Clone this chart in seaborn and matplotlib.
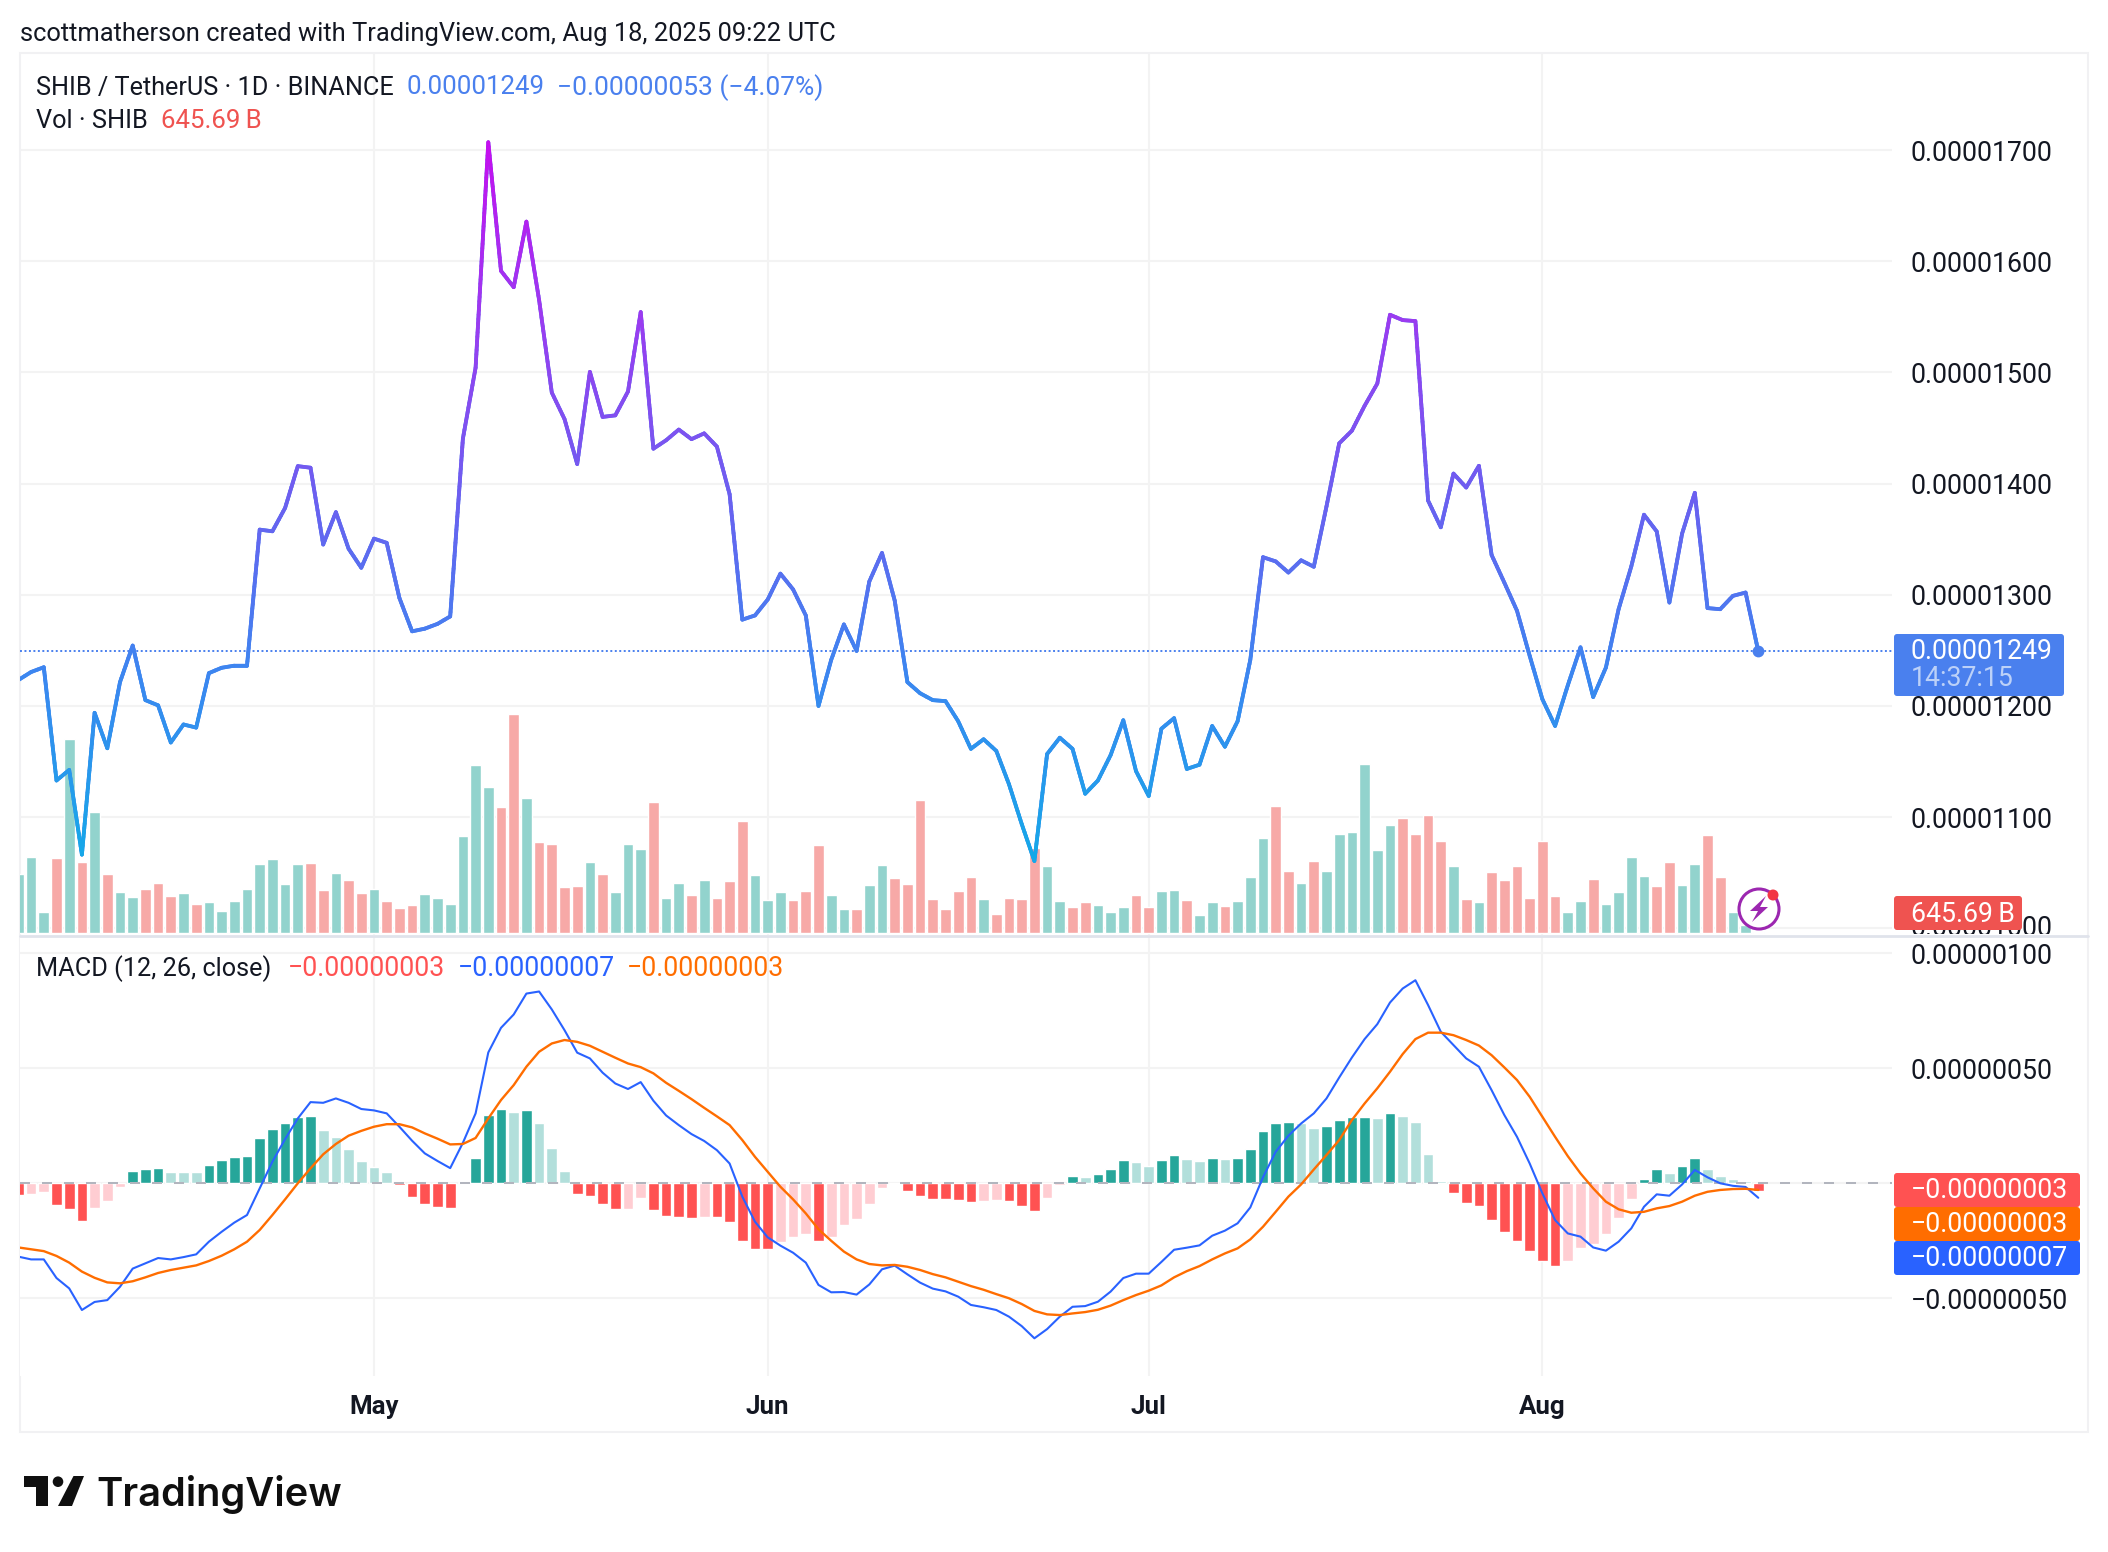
import numpy as np
import pandas as pd
import matplotlib
matplotlib.use("Agg")
import matplotlib.pyplot as plt
import matplotlib.dates as mdates
from matplotlib.collections import LineCollection
from matplotlib.colors import LinearSegmentedColormap, Normalize
from matplotlib.patches import Rectangle, FancyBboxPatch, Circle, Polygon
from matplotlib.lines import Line2D
from matplotlib.ticker import FuncFormatter
from matplotlib.transforms import Bbox, IdentityTransform
import seaborn as sns

W, H = 2108, 1552

# closes, in units of 1e-8 USDT
close = [1223.3, 1230.5, 1234.8, 1132.9, 1142.4, 1066.2, 1193.8, 1161.9, 1221.4, 1254.3,
         1205.2, 1200.5, 1167.1, 1183.3, 1180.5, 1229.5, 1234.3, 1236.2, 1236.2, 1358.6,
         1357.1, 1378.1, 1415.7, 1414.3, 1345.2, 1374.3, 1341.4, 1324.3, 1350.5, 1346.7,
         1297.1, 1267.1, 1269.5, 1273.8, 1280.5, 1440.5, 1504.3, 1707.1, 1591.4, 1576.7,
         1635.7, 1565.2, 1481.9, 1458.1, 1417.6, 1500.5, 1460.0, 1461.4, 1482.9, 1554.3,
         1431.4, 1439.0, 1448.6, 1440.0, 1445.2, 1433.3, 1390.5, 1277.6, 1281.4, 1295.7,
         1319.0, 1304.8, 1281.4, 1200.0, 1241.4, 1273.3, 1249.5, 1311.9, 1337.6, 1294.8,
         1221.4, 1211.4, 1205.2, 1204.3, 1186.2, 1161.4, 1170.0, 1159.5, 1129.5, 1093.8,
         1060.5, 1156.7, 1171.4, 1161.4, 1121.0, 1132.9, 1155.7, 1187.1, 1141.4, 1119.0,
         1179.5, 1189.0, 1143.3, 1147.1, 1181.9, 1163.3, 1186.2, 1241.4, 1333.8, 1330.0,
         1320.0, 1331.0, 1325.2, 1379.5, 1436.2, 1447.6, 1470.0, 1490.0, 1551.9, 1547.1,
         1546.2, 1384.7, 1360.7, 1409.0, 1396.5, 1416.0, 1335.8, 1311.0, 1285.6, 1245.0,
         1206.0, 1182.0, 1218.5, 1252.7, 1208.0, 1234.5, 1287.0, 1325.5, 1372.0, 1357.0,
         1293.0, 1355.0, 1391.7, 1288.0, 1287.0, 1299.0, 1302.0, 1249.0]

# relative volume, last bar is 645.69 B
vol = [112, 144, 40, 142, 367, 134, 229, 112, 78, 68,
       83, 95, 70, 76, 55, 59, 42, 61, 83, 130,
       140, 93, 130, 132, 81, 113, 100, 76, 83, 61,
       47, 53, 74, 66, 55, 183, 317, 276, 238, 414,
       255, 172, 168, 87, 89, 134, 112, 78, 168, 159,
       248, 66, 95, 72, 100, 66, 98, 212, 110, 62,
       78, 62, 79, 166, 72, 45, 45, 91, 129, 104,
       93, 251, 64, 45, 79, 106, 64, 36, 66, 64,
       161, 127, 61, 49, 59, 53, 40, 49, 72, 49,
       79, 81, 62, 34, 59, 51, 61, 106, 180, 240,
       117, 95, 136, 117, 187, 191, 319, 157, 204, 217,
       187, 223, 173, 126, 64, 58, 115, 100, 126, 67,
       173, 69, 39, 60, 102, 55, 77, 143, 107, 88,
       134, 90, 130, 185, 105, 39, 15, 2]
vol_dir = ("gggrgrgrgg" "rrrgrggggg" "gggrrgrrgr" "rrggggggrr" "grrrrgrggg"
           "rggrgrrrgg" "grrrggrggr" "rrrrrrgrrr" "rggrrgggrr" "ggrggrgggr"
           "rgrggggggr" "rrrgrgrrrr" "rrggrggggr" "rggrrggr")

macd = [-32.0, -33.2, -33.2, -41.3, -45.8, -55.2, -51.7, -50.9, -45.1, -37.2,
        -34.9, -32.6, -33.2, -32.2, -31.0, -25.5, -21.2, -17.2, -13.9, -2.3,
        9.3, 19.1, 28.1, 35.2, 34.9, 36.8, 34.9, 32.2, 31.6, 30.3,
        24.5, 18.4, 12.9, 9.6, 6.5, 17.5, 30.3, 56.8, 67.5, 73.3,
        82.4, 83.3, 75.5, 66.5, 56.7, 54.2, 48.0, 43.3, 40.9, 43.9,
        35.8, 29.4, 25.2, 21.3, 18.3, 14.3, 8.5, -5.9, -16.8, -23.6,
        -27.2, -30.3, -34.6, -44.3, -47.5, -47.4, -48.5, -44.1, -37.5, -35.9,
        -39.7, -43.3, -45.9, -47.1, -49.4, -53.0, -54.0, -55.2, -58.1, -62.2,
        -67.5, -63.5, -58.1, -53.8, -53.5, -51.6, -47.2, -41.3, -39.4, -39.4,
        -34.3, -29.0, -28.1, -27.1, -22.9, -20.7, -17.5, -10.6, 2.5, 13.6,
        20.6, 25.9, 30.3, 36.8, 45.9, 54.6, 62.6, 69.1, 78.5, 84.6,
        88.2, 77.4, 65.8, 60.0, 54.2, 50.6, 40.4, 29.6, 20.1, 8.5,
        -4.5, -16.1, -21.9, -23.3, -28.0, -29.4, -25.5, -19.7, -10.3, -4.9,
        -5.5, -0.6, 5.7, 2.5, -0.1, -1.2, -1.7, -6.4]

signal = [-28.0, -28.8, -29.6, -31.7, -34.6, -38.5, -41.2, -43.2, -43.6, -42.7,
          -41.0, -39.1, -37.8, -36.8, -35.8, -33.9, -31.6, -28.8, -25.5, -20.4,
          -13.9, -7.1, -0.1, 6.4, 12.5, 17.0, 20.6, 22.7, 24.5, 25.6,
          25.6, 24.2, 21.6, 19.3, 16.8, 17.0, 19.6, 28.1, 36.1, 42.6,
          50.6, 57.1, 60.7, 62.2, 61.4, 59.7, 57.1, 54.5, 52.0, 50.4,
          47.7, 43.6, 40.1, 36.5, 32.7, 29.0, 25.2, 18.7, 11.4, 4.9,
          -1.6, -7.1, -13.2, -20.1, -25.1, -29.8, -33.2, -35.2, -35.8, -35.6,
          -36.4, -37.8, -39.6, -41.0, -42.9, -44.8, -46.4, -48.3, -50.1, -52.6,
          -55.6, -57.1, -57.4, -56.7, -56.1, -55.1, -53.3, -50.9, -48.7, -46.8,
          -44.5, -41.0, -38.3, -36.1, -33.2, -30.6, -28.4, -24.5, -19.0, -12.5,
          -5.9, -0.6, 5.9, 12.2, 18.7, 27.4, 34.6, 41.2, 48.4, 56.1,
          62.6, 65.4, 65.4, 64.3, 62.2, 59.8, 55.6, 50.3, 44.8, 37.5,
          28.8, 20.1, 11.7, 4.2, -2.3, -8.1, -11.4, -12.9, -12.5, -11.0,
          -10.0, -8.1, -5.5, -3.8, -3.0, -2.6, -2.5, -3.0]

hist = [-5.2, -4.8, -3.8, -9.6, -11.2, -16.5, -10.9, -7.8, -1.7, 5.2,
        6.1, 6.5, 4.8, 4.8, 4.8, 7.8, 10.0, 11.3, 11.7, 19.6,
        23.5, 26.1, 28.7, 29.1, 23.0, 20.0, 14.8, 9.6, 7.0, 4.8,
        -0.9, -6.1, -9.1, -10.4, -10.9, 0.4, 10.9, 29.6, 32.2, 30.9,
        31.7, 26.1, 15.2, 5.2, -4.8, -5.7, -9.1, -11.4, -11.3, -6.5,
        -11.7, -14.3, -14.8, -15.2, -14.8, -14.9, -17.0, -25.2, -28.7, -28.7,
        -25.6, -23.5, -22.2, -25.2, -23.5, -18.3, -15.6, -9.1, -2.2, -0.4,
        -3.5, -5.7, -7.0, -7.0, -7.4, -8.3, -7.8, -7.4, -7.8, -10.0,
        -12.2, -6.5, -0.9, 3.0, 2.6, 3.9, 6.1, 10.0, 9.1, 7.4,
        10.0, 12.2, 10.4, 9.6, 10.9, 10.4, 10.9, 14.8, 22.6, 26.1,
        26.5, 26.1, 23.9, 24.8, 27.4, 28.7, 28.9, 28.3, 30.4, 29.1,
        26.5, 12.6, 0.9, -4.3, -8.7, -10.0, -16.1, -21.3, -25.2, -29.6,
        -33.9, -36.1, -33.9, -28.3, -26.5, -22.2, -15.2, -7.0, 1.7, 6.1,
        4.3, 7.4, 10.9, 6.1, 3.0, 1.7, 0.9, -3.5]

df = pd.DataFrame({
    "date": pd.date_range("2025-04-03", periods=len(close), freq="D"),
    "price": np.array(close) * 1e-8,
    "vol": np.array(vol) * 322.8e9,
    "up": [c == "g" for c in vol_dir],
    "macd": np.array(macd) * 1e-8,
    "signal": np.array(signal) * 1e-8,
    "hist": np.array(hist) * 1e-8,
})

sns.set_theme(style="white")
plt.rcParams["font.family"] = ["Roboto", "DejaVu Sans"]
TXT = "#131722"
GRID = "#f3f3f3"
BLUE = "#4a80ee"
FS = 18.3    # words
FS_NUM = 19.2  # axis numbers

fig = plt.figure(figsize=(W / 100, H / 100), dpi=100, facecolor="white")


def box(x0, y0, x1, y1):
    return [x0 / W, 1 - y1 / H, (x1 - x0) / W, (y1 - y0) / H]


def ftext(x, y, s, **kw):
    kw.setdefault("color", TXT)
    kw.setdefault("fontsize", FS)
    kw.setdefault("va", "center")
    kw.setdefault("zorder", 8)
    return fig.text(x / W, 1 - y / H, s, **kw)


def tag(x0, y0, x1, y1, color):
    p = FancyBboxPatch((x0, H - y1), x1 - x0, y1 - y0, boxstyle="round,pad=0,rounding_size=3",
                       fc=color, ec="none", transform=IdentityTransform(), zorder=6)
    fig.add_artist(p)


def px_line(x0, y0, x1, y1, color, lw):
    fig.add_artist(Line2D([x0, x1], [H - y0, H - y1], color=color, lw=lw,
                          transform=IdentityTransform(), zorder=5))


may1 = mdates.date2num(pd.Timestamp("2025-05-01"))
xlim = (may1 - 354 / 12.7, may1 + 1518 / 12.7)
months = pd.to_datetime(["2025-05-01", "2025-06-01", "2025-07-01", "2025-08-01"])

# price pane: grid and labels below, volume in the middle, line on top
ax_price = fig.add_axes(box(20, 53, 1892, 935), zorder=0)
ax_vol = fig.add_axes(box(20, 53, 1892, 935), zorder=1)
ax_line = fig.add_axes(box(20, 53, 1892, 935), zorder=2)
ax_macd = fig.add_axes(box(20, 937, 1892, 1376), zorder=1)

price_ylim = (993.9e-8, 1787.4e-8)
for ax in [ax_price, ax_vol, ax_line, ax_macd]:
    ax.set_xlim(xlim)
    for s in ax.spines.values():
        s.set_visible(False)
    ax.xaxis_date()
for ax in [ax_vol, ax_line]:
    ax.patch.set_alpha(0)
    ax.axis("off")
ax_price.set_ylim(price_ylim)
ax_line.set_ylim(price_ylim)


def fmt(v, pos=None):
    if abs(v - 1000e-8) < 1e-9:
        return ""
    return f"{v:.8f}".replace("-", "\u2212")


for ax, ticks in [(ax_price, np.arange(1000, 1701, 100) * 1e-8),
                  (ax_macd, np.array([-50, 0, 50, 100]) * 1e-8)]:
    ax.set_xticks(mdates.date2num(months))
    ax.set_yticks(ticks)
    ax.yaxis.tick_right()
    ax.yaxis.set_major_formatter(FuncFormatter(fmt))
    ax.tick_params(axis="y", length=0, pad=13.5, labelsize=FS_NUM, labelcolor=TXT)
    ax.tick_params(axis="x", length=0)
    ax.grid(True, color=GRID, lw=1.5)
    ax.set_axisbelow(True)
ax_price.tick_params(axis="x", labelbottom=False)
# the zero level has the dashed line and no number
for lab, tk in zip(ax_macd.get_yticklabels(), ax_macd.get_yticks()):
    if abs(tk) < 1e-12:
        lab.set_visible(False)

# volume
ax_vol.set_ylim(-3.8 * 322.8e9, 1662 * 322.8e9)
ax_vol.bar(df["date"], df["vol"], width=0.84,
           color=["#92d3cd" if u else "#f7a9a7" for u in df["up"]], zorder=2)

# price line, colour follows the price
sns.lineplot(data=df, x="date", y="price", ax=ax_line, color="#4a80ee", lw=2.7)
ax_line.set_xlim(xlim)
ax_line.set_ylim(price_ylim)
ax_line.axis("off")
cmap = LinearSegmentedColormap.from_list("price", ["#14a9e8", "#3a88f0", "#6b60f0", "#9a3cf0", "#c60eef"])
norm = Normalize(1060e-8, 1707e-8)
xn = mdates.date2num(df["date"])
segs, cols = [], []
for i in range(len(df) - 1):
    n = int(abs(close[i + 1] - close[i]) / 4) + 1
    xs = np.linspace(xn[i], xn[i + 1], n + 1)
    ys = np.linspace(df["price"][i], df["price"][i + 1], n + 1)
    for j in range(n):
        segs.append([(xs[j], ys[j]), (xs[j + 1], ys[j + 1])])
        cols.append(cmap(norm((ys[j] + ys[j + 1]) / 2)))
ax_line.add_collection(LineCollection(segs, colors=cols, linewidths=2.7, capstyle="round", zorder=3))
ax_line.axhline(df["price"].iloc[-1], color=BLUE, lw=1.4, ls=(0, (1, 1.3)), zorder=1)
ax_line.plot(df["date"].iloc[-1], df["price"].iloc[-1], "o", ms=8.5, color=BLUE, mec="none", zorder=4)

# macd pane
ax_macd.set_ylim(-83.9e-8, 107e-8)
prev = df["hist"].shift(1)
hist_cols = []
for h, p in zip(df["hist"], prev):
    rising = h > p
    if h >= 0:
        hist_cols.append("#26a69a" if rising else "#b2dfdb")
    else:
        hist_cols.append("#ffcdd2" if rising else "#ff5252")
ax_macd.bar(df["date"], df["hist"], width=0.84, color=hist_cols, zorder=2)
ax_macd.axhline(0, color="#b2b5be", lw=1.44, ls=(0, (5, 6)), zorder=3)
sns.lineplot(data=df, x="date", y="macd", ax=ax_macd, color="#2962ff", lw=1.5, zorder=4)
sns.lineplot(data=df, x="date", y="signal", ax=ax_macd, color="#ff6d00", lw=1.7, zorder=5)
ax_macd.set_xlim(xlim)
ax_macd.set_xlabel("")
ax_macd.set_ylabel("")
ax_price.set_xlabel("")
ax_price.set_ylabel("")
ax_macd.xaxis.set_major_formatter(mdates.DateFormatter("%b"))
ax_macd.tick_params(axis="x", pad=14, labelsize=18.6, labelcolor=TXT)
for t in ax_macd.get_xticklabels():
    t.set_fontweight(600)

# frame and pane separator
fig.add_artist(Rectangle((20, H - 1432), 2068, 1379, fc="none", ec="#f1f1f3", lw=1.5,
                         transform=IdentityTransform(), zorder=0.5))
px_line(20, 935.5, 2088, 935.5, "#e0e3eb", 2.0)

# clipped axis label under the volume tag
t = ftext(1910.6, 928.2, "0.00001000", fontsize=FS_NUM, zorder=5.5)
t.set_clip_on(True)
t.set_clip_box(Bbox.from_extents(1892, H - 934, 2088, H))

# axis tags
tag(1894, 634, 2064, 696, "#4a80ee")
ftext(1910.6, 651, "0.00001249", color="white", fontsize=FS_NUM)
ftext(1910.6, 679, "14:37:15", color="#bcd1f8", fontsize=FS_NUM)
tag(1894, 896, 2022, 930, "#ef5350")
ftext(1910.6, 914, "645.69\u2009B", color="white", fontsize=FS_NUM)
tag(1894, 1173, 2080, 1207, "#ff5252")
ftext(1910.6, 1190.5, "\u22120.00000003", color="white", fontsize=FS_NUM)
tag(1894, 1207, 2080, 1241, "#ff6d00")
ftext(1910.6, 1224.5, "\u22120.00000003", color="white", fontsize=FS_NUM)
tag(1894, 1241, 2080, 1275, "#2962ff")
ftext(1910.6, 1258.5, "\u22120.00000007", color="white", fontsize=FS_NUM)

# headers
ftext(20, 33.5, "scottmatherson created with TradingView.com, Aug 18, 2025 09:22 UTC", fontsize=18.35)
ftext(36, 87.5, "SHIB / TetherUS \u00b7 1D \u00b7 BINANCE", fontsize=18.2)
ftext(407, 87.5, "0.00001249", color=BLUE, fontsize=18.6)
ftext(557, 87.5, "\u22120.00000053 (\u22124.07%)", color=BLUE, fontsize=19)
ftext(36, 121.5, "Vol \u00b7 SHIB", fontsize=18.3)
ftext(161, 121.5, "645.69\u2009B", color="#ef5350", fontsize=18.6)
ftext(36.5, 969, "MACD (12, 26, close)", fontsize=18.2)
ftext(288, 969, "\u22120.00000003", color="#ff5252", fontsize=FS_NUM)
ftext(458, 969, "\u22120.00000007", color="#2962ff", fontsize=FS_NUM)
ftext(626.7, 969, "\u22120.00000003", color="#ff6d00", fontsize=FS_NUM)

# flash icon
ic = (1759, H - 909)
fig.add_artist(Circle(ic, 20, fc="white", ec="#9c27b0", lw=2.2, transform=IdentityTransform(), zorder=6))
bolt = np.array([[7, -13], [-9, 2], [-1, 2], [-7, 13], [9, -2], [1, -2]]) * [1, -1] + ic
fig.add_artist(Polygon(bolt, fc="#9c27b0", ec="none", transform=IdentityTransform(), zorder=7))
fig.add_artist(Circle((1773, H - 895), 5.5, fc="#f23645", ec="none", transform=IdentityTransform(), zorder=7))

# logo
LOGO = "#0f0f0f"
for pts in ([(24, 1476), (48, 1476), (48, 1506), (36, 1506), (36, 1487), (24, 1487)],
            [(73.5, 1476), (84, 1476), (72, 1506), (58, 1506)]):
    fig.add_artist(Polygon([(a, H - b) for a, b in pts], fc=LOGO, ec="none",
                           transform=IdentityTransform(), zorder=7))
fig.add_artist(Circle((58, H - 1481.7), 5.3, fc=LOGO, ec="none", transform=IdentityTransform(), zorder=7))
ftext(96.5, 1494, "TradingView", family=["Inter", "DejaVu Sans"], fontweight=600, fontsize=28.7, color=LOGO)

fig.savefig("out.png", dpi=100)
